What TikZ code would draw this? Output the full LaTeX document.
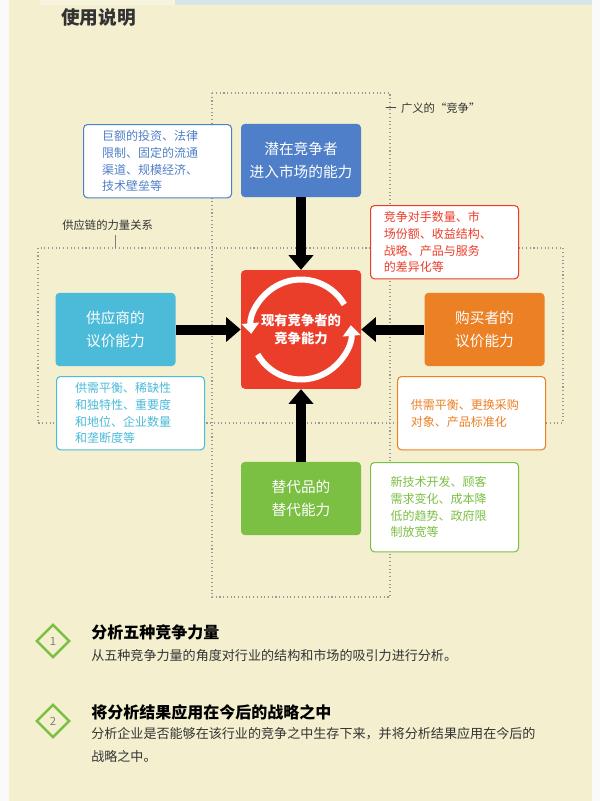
\documentclass[tikz,border=0pt]{standalone}
\usepackage{fontspec}
\setmainfont{Noto Sans CJK SC}
\newcommand\cjkb{\bfseries}
\usetikzlibrary{arrows.meta,shapes.geometric}
\definecolor{bg}{HTML}{F3EFCF}
\definecolor{cb}{HTML}{4F7FC8}
\definecolor{cr}{HTML}{EA3E2A}
\definecolor{cc}{HTML}{4BBBD9}
\definecolor{co}{HTML}{EC8025}
\definecolor{cg}{HTML}{7BBF43}
\definecolor{dt}{HTML}{333333}
\definecolor{strip}{HTML}{D6E6E6}
\definecolor{tab}{HTML}{F7F4DE}
\tikzset{
 px/.style={x=0.75pt,y=-0.75pt},
 force/.style={rounded corners=3pt,text=white,align=center,font=\fontsize{11}{17}\selectfont,minimum width=90pt,minimum height=55pt,inner sep=0pt},
 note/.style={draw,line width=0.8pt,fill=white,rounded corners=3pt,align=left,font=\fontsize{9}{12.5}\selectfont,minimum height=55pt,inner sep=0pt},
 dots/.style={draw=gray!80,dotted,line width=0.8pt},
 fat/.style={line width=7.5pt,-{Triangle[length=11pt,width=18pt]}},
 lbl/.style={font=\fontsize{8.5}{10}\selectfont,text=dt,inner sep=0pt},
}
\begin{document}
\begin{tikzpicture}[px]
\useasboundingbox (0,0) rectangle (600,801);
\fill[white!96!gray] (0,0) rectangle (600,801);
\fill[bg] (9,0) rectangle (592,801);
\fill[strip] (175,0) rectangle (592,5);
\fill[tab] (40,0) rectangle (175,5);
\node[anchor=west,font=\cjkb\fontsize{14}{16}\selectfont,text=dt,inner sep=0] (title) at (61,17) {使用说明};
% dotted regions
\draw[dots] (212,93) rectangle (390,597);
\draw[dots] (38,248) rectangle (563,423);
\node[lbl,anchor=west] (broad) at (385,108) {一\, 广义的“竞争”};
\node[lbl,anchor=west] (chain) at (62,225) {供应链的力量关系};
\coordinate (t1) at (115,235); \coordinate (t2) at (115,248);
\draw[gray] (t1) -- (t2);
% force boxes
\node[force,fill=cb] (pot) at (301,160.5) {潜在竞争者\\进入市场的能力};
\node[force,fill=cc] (sup) at (115.5,329.5) {供应商的\\议价能力};
\node[force,fill=co] (buy) at (484.5,329.5) {购买者的\\议价能力};
\node[force,fill=cg] (sub) at (301,498.5) {替代品的\\替代能力};
\node[rounded corners=3pt,fill=cr,minimum width=90pt,minimum height=89pt,inner sep=0] (cen) at (301,329.5) {};
% circular arrows
\draw[white,line width=4.5pt,-{Triangle[length=8pt,width=13pt]}] (cen.center) ++(150:50) arc (150:-5:50);
\draw[white,line width=4.5pt,-{Triangle[length=8pt,width=13pt]}] (cen.center) ++(-30:50) arc (-30:-185:50);
\node[text=white,align=center,font=\cjkb\fontsize{10}{13}\selectfont] (centxt) at (cen.center) {现有竞争者的\\竞争能力};
% notes
\node[note,draw=cb,text=cb,anchor=north west,text width=83pt,inner xsep=14pt] (n1) at (83,124) {巨额的投资、法律\\限制、固定的流通\\渠道、规模经济、\\技术壁垒等};
\node[note,draw=cr,text=cr,anchor=north west,text width=91pt,inner xsep=10pt] (n2) at (370,205) {竞争对手数量、市\\场份额、收益结构、\\战略、产品与服务\\的差异化等};
\node[note,draw=cc,text=cc,anchor=north west,text width=83pt,inner xsep=14pt] (n3) at (56,376) {供需平衡、稀缺性\\和独特性、重要度\\和地位、企业数量\\和垄断度等};
\node[note,draw=co,text=co,anchor=north west,text width=91pt,inner xsep=10pt] (n4) at (397,376) {供需平衡、更换采购\\对象、产品标准化};
\node[note,draw=cg,text=cg,anchor=north west,text width=81pt,minimum height=67pt,inner xsep=15pt] (n5) at (370,462) {新技术开发、顾客\\需求变化、成本降\\低的趋势、政府限\\制放宽等};
% arrows
\draw[fat] (pot.south) -- (cen.north);
\draw[fat] (sup.east) -- (cen.west);
\draw[fat] (buy.west) -- (cen.east);
\draw[fat] (sub.north) -- (cen.south);
% bottom
\node[diamond,draw=cg,line width=1.8pt,minimum width=25pt,minimum height=25pt,inner sep=0,font=\fontsize{8.5}{9}\selectfont,text=gray] (d1) at (53,641) {1};
\node[diamond,draw=cg,line width=1.8pt,minimum width=25pt,minimum height=25pt,inner sep=0,font=\fontsize{8.5}{9}\selectfont,text=gray] (d2) at (53,721) {2};
\node[anchor=west,font=\cjkb\fontsize{12}{13}\selectfont,text=black,inner sep=0] (h1) at (91,632) {分析五种竞争力量};
\node[anchor=west,font=\fontsize{9.8}{11}\selectfont,text=dt,inner sep=0] (p1) at (91,656) {从五种竞争力量的角度对行业的结构和市场的吸引力进行分析。};
\node[anchor=west,font=\cjkb\fontsize{12}{13}\selectfont,text=black,inner sep=0] (h2) at (91,712) {将分析结果应用在今后的战略之中};
\node[anchor=north west,font=\fontsize{9.8}{17.5}\selectfont,text=dt,inner sep=0,align=left] (p2) at (91,727) {分析企业是否能够在该行业的竞争之中生存下来，并将分析结果应用在今后的\\战略之中。};
\end{tikzpicture}
\end{document}
